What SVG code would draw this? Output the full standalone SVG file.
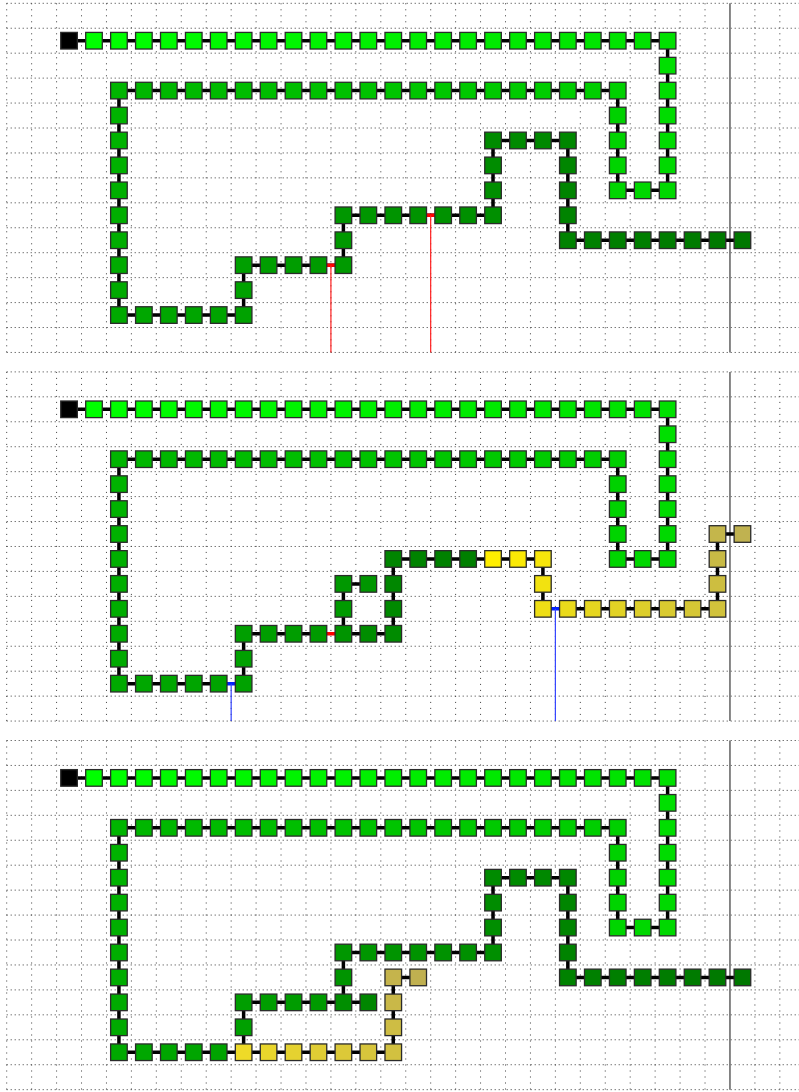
<svg xmlns="http://www.w3.org/2000/svg" xmlns:xlink="http://www.w3.org/1999/xlink" width="799" height="1092" viewBox="0 0 799 1092">
<style>
.gh{fill:none;stroke:#3a3a3a;stroke-width:1;stroke-dasharray:1 3}
.gv{fill:none;stroke:#3a3a3a;stroke-width:1;stroke-dasharray:1 5}
.axis{stroke:#6a6a6a;stroke-width:1.6}
.lk{fill:none;stroke:#000;stroke-width:3.5;stroke-linejoin:miter}
.lr{fill:none;stroke:#ff0000;stroke-width:3.5}
.lb{fill:none;stroke:#0022ff;stroke-width:3.5}
.tr{fill:none;stroke:#ff2020;stroke-width:1.2}
.tb{fill:none;stroke:#3344ff;stroke-width:1.2}
</style>
<defs>
<rect id="n" x="-8.3" y="-8.3" width="16.6" height="16.6" stroke="#2b2b2b" stroke-width="1.3"/>
<g id="grid">
<path class="gh" d="M6.7 3.3H799M6.7 28.24H799M6.7 53.18H799M6.7 78.12H799M6.7 103.06H799M6.7 128H799M6.7 152.94H799M6.7 177.88H799M6.7 202.82H799M6.7 227.76H799M6.7 252.7H799M6.7 277.64H799M6.7 302.58H799M6.7 327.52H799M6.7 352.46H799"/>
<path class="gv" d="M6.7 3.3V352.46M31.64 3.3V352.46M56.58 3.3V352.46M81.52 3.3V352.46M106.46 3.3V352.46M131.4 3.3V352.46M156.34 3.3V352.46M181.28 3.3V352.46M206.22 3.3V352.46M231.16 3.3V352.46M256.1 3.3V352.46M281.04 3.3V352.46M305.98 3.3V352.46M330.92 3.3V352.46M355.86 3.3V352.46M380.8 3.3V352.46M405.74 3.3V352.46M430.68 3.3V352.46M455.62 3.3V352.46M480.56 3.3V352.46M505.5 3.3V352.46M530.44 3.3V352.46M555.38 3.3V352.46M580.32 3.3V352.46M605.26 3.3V352.46M630.2 3.3V352.46M655.14 3.3V352.46M680.08 3.3V352.46M705.02 3.3V352.46M754.9 3.3V352.46M779.84 3.3V352.46"/>
<path class="axis" d="M729.96 3.3V352.46"/>
</g>
</defs>
<rect width="799" height="1092" fill="#fff"/>
<g id="grids">
<use xlink:href="#grid"/>
<use xlink:href="#grid" transform="translate(0,368.6)"/>
<use xlink:href="#grid" transform="translate(0,737.2)"/>
</g>
<g id="connectors">
<g id="p1-links">
<path class="lk" d="M69.05 40.71H667.61V190.35H617.73V90.59H118.93V315.05H243.63V265.17H343.39V215.29H493.03V140.47H567.85V240.23H742.43"/>
<path class="lr" d="M318.45 265.17H343.39M418.21 215.29H443.15"/>
<path class="tr" d="M330.92 265.17V352.46M430.68 215.29V352.46"/>
</g>
<g id="p2-links" transform="translate(0,368.6)">
<path class="lk" d="M69.05 40.71H667.61V190.35H617.73V90.59H118.93V315.05H218.69"/>
<path class="lk" d="M243.63 315.05V265.17H318.45"/>
<path class="lk" d="M343.39 265.17H393.27V190.35H542.91V240.23"/>
<path class="lk" d="M567.85 240.23H717.49V165.41H742.43"/>
<path class="lk" d="M343.39 265.17V215.29H368.33"/>
<path class="lb" d="M218.69 315.05H243.63M542.91 240.23H567.85"/>
<path class="lr" d="M318.45 265.17H343.39"/>
<path class="tb" d="M231.16 315.05V352.46M555.38 240.23V352.46"/>
</g>
<g id="p3-links" transform="translate(0,737.2)">
<path class="lk" d="M69.05 40.71H667.61V190.35H617.73V90.59H118.93V315.05H393.27V240.23H418.21"/>
<path class="lk" d="M243.63 315.05V265.17H368.33"/>
<path class="lk" d="M343.39 265.17V215.29H493.03V140.47H567.85V240.23H742.43"/>
</g>
</g>
<g id="panel1">
<g id="p1-n0"><use xlink:href="#n" x="69.05" y="40.71" fill="#000"/></g>
<g id="p1-n1"><use xlink:href="#n" x="93.99" y="40.71" fill="rgb(0,255,0)"/></g>
<g id="p1-n2"><use xlink:href="#n" x="118.93" y="40.71" fill="rgb(0,254,0)"/></g>
<g id="p1-n3"><use xlink:href="#n" x="143.87" y="40.71" fill="rgb(0,252,0)"/></g>
<g id="p1-n4"><use xlink:href="#n" x="168.81" y="40.71" fill="rgb(0,251,0)"/></g>
<g id="p1-n5"><use xlink:href="#n" x="193.75" y="40.71" fill="rgb(0,250,0)"/></g>
<g id="p1-n6"><use xlink:href="#n" x="218.69" y="40.71" fill="rgb(0,248,0)"/></g>
<g id="p1-n7"><use xlink:href="#n" x="243.63" y="40.71" fill="rgb(0,247,0)"/></g>
<g id="p1-n8"><use xlink:href="#n" x="268.57" y="40.71" fill="rgb(0,246,0)"/></g>
<g id="p1-n9"><use xlink:href="#n" x="293.51" y="40.71" fill="rgb(0,244,0)"/></g>
<g id="p1-n10"><use xlink:href="#n" x="318.45" y="40.71" fill="rgb(0,243,0)"/></g>
<g id="p1-n11"><use xlink:href="#n" x="343.39" y="40.71" fill="rgb(0,242,0)"/></g>
<g id="p1-n12"><use xlink:href="#n" x="368.33" y="40.71" fill="rgb(0,240,0)"/></g>
<g id="p1-n13"><use xlink:href="#n" x="393.27" y="40.71" fill="rgb(0,239,0)"/></g>
<g id="p1-n14"><use xlink:href="#n" x="418.21" y="40.71" fill="rgb(0,237,0)"/></g>
<g id="p1-n15"><use xlink:href="#n" x="443.15" y="40.71" fill="rgb(0,236,0)"/></g>
<g id="p1-n16"><use xlink:href="#n" x="468.09" y="40.71" fill="rgb(0,235,0)"/></g>
<g id="p1-n17"><use xlink:href="#n" x="493.03" y="40.71" fill="rgb(0,233,0)"/></g>
<g id="p1-n18"><use xlink:href="#n" x="517.97" y="40.71" fill="rgb(0,232,0)"/></g>
<g id="p1-n19"><use xlink:href="#n" x="542.91" y="40.71" fill="rgb(0,231,0)"/></g>
<g id="p1-n20"><use xlink:href="#n" x="567.85" y="40.71" fill="rgb(0,229,0)"/></g>
<g id="p1-n21"><use xlink:href="#n" x="592.79" y="40.71" fill="rgb(0,228,0)"/></g>
<g id="p1-n22"><use xlink:href="#n" x="617.73" y="40.71" fill="rgb(0,227,0)"/></g>
<g id="p1-n23"><use xlink:href="#n" x="642.67" y="40.71" fill="rgb(0,225,0)"/></g>
<g id="p1-n24"><use xlink:href="#n" x="667.61" y="40.71" fill="rgb(0,224,0)"/></g>
<g id="p1-n25"><use xlink:href="#n" x="667.61" y="65.65" fill="rgb(0,223,0)"/></g>
<g id="p1-n26"><use xlink:href="#n" x="667.61" y="90.59" fill="rgb(0,221,0)"/></g>
<g id="p1-n27"><use xlink:href="#n" x="667.61" y="115.53" fill="rgb(0,220,0)"/></g>
<g id="p1-n28"><use xlink:href="#n" x="667.61" y="140.47" fill="rgb(0,219,0)"/></g>
<g id="p1-n29"><use xlink:href="#n" x="667.61" y="165.41" fill="rgb(0,217,0)"/></g>
<g id="p1-n30"><use xlink:href="#n" x="667.61" y="190.35" fill="rgb(0,216,0)"/></g>
<g id="p1-n31"><use xlink:href="#n" x="642.67" y="190.35" fill="rgb(0,215,0)"/></g>
<g id="p1-n32"><use xlink:href="#n" x="617.73" y="190.35" fill="rgb(0,213,0)"/></g>
<g id="p1-n33"><use xlink:href="#n" x="617.73" y="165.41" fill="rgb(0,212,0)"/></g>
<g id="p1-n34"><use xlink:href="#n" x="617.73" y="140.47" fill="rgb(0,210,0)"/></g>
<g id="p1-n35"><use xlink:href="#n" x="617.73" y="115.53" fill="rgb(0,209,0)"/></g>
<g id="p1-n36"><use xlink:href="#n" x="617.73" y="90.59" fill="rgb(0,208,0)"/></g>
<g id="p1-n37"><use xlink:href="#n" x="592.79" y="90.59" fill="rgb(0,206,0)"/></g>
<g id="p1-n38"><use xlink:href="#n" x="567.85" y="90.59" fill="rgb(0,205,0)"/></g>
<g id="p1-n39"><use xlink:href="#n" x="542.91" y="90.59" fill="rgb(0,204,0)"/></g>
<g id="p1-n40"><use xlink:href="#n" x="517.97" y="90.59" fill="rgb(0,202,0)"/></g>
<g id="p1-n41"><use xlink:href="#n" x="493.03" y="90.59" fill="rgb(0,201,0)"/></g>
<g id="p1-n42"><use xlink:href="#n" x="468.09" y="90.59" fill="rgb(0,200,0)"/></g>
<g id="p1-n43"><use xlink:href="#n" x="443.15" y="90.59" fill="rgb(0,198,0)"/></g>
<g id="p1-n44"><use xlink:href="#n" x="418.21" y="90.59" fill="rgb(0,197,0)"/></g>
<g id="p1-n45"><use xlink:href="#n" x="393.27" y="90.59" fill="rgb(0,196,0)"/></g>
<g id="p1-n46"><use xlink:href="#n" x="368.33" y="90.59" fill="rgb(0,194,0)"/></g>
<g id="p1-n47"><use xlink:href="#n" x="343.39" y="90.59" fill="rgb(0,193,0)"/></g>
<g id="p1-n48"><use xlink:href="#n" x="318.45" y="90.59" fill="rgb(0,192,0)"/></g>
<g id="p1-n49"><use xlink:href="#n" x="293.51" y="90.59" fill="rgb(0,190,0)"/></g>
<g id="p1-n50"><use xlink:href="#n" x="268.57" y="90.59" fill="rgb(0,189,0)"/></g>
<g id="p1-n51"><use xlink:href="#n" x="243.63" y="90.59" fill="rgb(0,188,0)"/></g>
<g id="p1-n52"><use xlink:href="#n" x="218.69" y="90.59" fill="rgb(0,186,0)"/></g>
<g id="p1-n53"><use xlink:href="#n" x="193.75" y="90.59" fill="rgb(0,185,0)"/></g>
<g id="p1-n54"><use xlink:href="#n" x="168.81" y="90.59" fill="rgb(0,183,0)"/></g>
<g id="p1-n55"><use xlink:href="#n" x="143.87" y="90.59" fill="rgb(0,182,0)"/></g>
<g id="p1-n56"><use xlink:href="#n" x="118.93" y="90.59" fill="rgb(0,181,0)"/></g>
<g id="p1-n57"><use xlink:href="#n" x="118.93" y="115.53" fill="rgb(0,179,0)"/></g>
<g id="p1-n58"><use xlink:href="#n" x="118.93" y="140.47" fill="rgb(0,178,0)"/></g>
<g id="p1-n59"><use xlink:href="#n" x="118.93" y="165.41" fill="rgb(0,177,0)"/></g>
<g id="p1-n60"><use xlink:href="#n" x="118.93" y="190.35" fill="rgb(0,175,0)"/></g>
<g id="p1-n61"><use xlink:href="#n" x="118.93" y="215.29" fill="rgb(0,174,0)"/></g>
<g id="p1-n62"><use xlink:href="#n" x="118.93" y="240.23" fill="rgb(0,173,0)"/></g>
<g id="p1-n63"><use xlink:href="#n" x="118.93" y="265.17" fill="rgb(0,171,0)"/></g>
<g id="p1-n64"><use xlink:href="#n" x="118.93" y="290.11" fill="rgb(0,170,0)"/></g>
<g id="p1-n65"><use xlink:href="#n" x="118.93" y="315.05" fill="rgb(0,169,0)"/></g>
<g id="p1-n66"><use xlink:href="#n" x="143.87" y="315.05" fill="rgb(0,167,0)"/></g>
<g id="p1-n67"><use xlink:href="#n" x="168.81" y="315.05" fill="rgb(0,166,0)"/></g>
<g id="p1-n68"><use xlink:href="#n" x="193.75" y="315.05" fill="rgb(0,165,0)"/></g>
<g id="p1-n69"><use xlink:href="#n" x="218.69" y="315.05" fill="rgb(0,163,0)"/></g>
<g id="p1-n70"><use xlink:href="#n" x="243.63" y="315.05" fill="rgb(0,162,0)"/></g>
<g id="p1-n71"><use xlink:href="#n" x="243.63" y="290.11" fill="rgb(0,161,0)"/></g>
<g id="p1-n72"><use xlink:href="#n" x="243.63" y="265.17" fill="rgb(0,159,0)"/></g>
<g id="p1-n73"><use xlink:href="#n" x="268.57" y="265.17" fill="rgb(0,158,0)"/></g>
<g id="p1-n74"><use xlink:href="#n" x="293.51" y="265.17" fill="rgb(0,157,0)"/></g>
<g id="p1-n75"><use xlink:href="#n" x="318.45" y="265.17" fill="rgb(0,155,0)"/></g>
<g id="p1-n76"><use xlink:href="#n" x="343.39" y="265.17" fill="rgb(0,154,0)"/></g>
<g id="p1-n77"><use xlink:href="#n" x="343.39" y="240.23" fill="rgb(0,152,0)"/></g>
<g id="p1-n78"><use xlink:href="#n" x="343.39" y="215.29" fill="rgb(0,151,0)"/></g>
<g id="p1-n79"><use xlink:href="#n" x="368.33" y="215.29" fill="rgb(0,150,0)"/></g>
<g id="p1-n80"><use xlink:href="#n" x="393.27" y="215.29" fill="rgb(0,148,0)"/></g>
<g id="p1-n81"><use xlink:href="#n" x="418.21" y="215.29" fill="rgb(0,147,0)"/></g>
<g id="p1-n82"><use xlink:href="#n" x="443.15" y="215.29" fill="rgb(0,146,0)"/></g>
<g id="p1-n83"><use xlink:href="#n" x="468.09" y="215.29" fill="rgb(0,144,0)"/></g>
<g id="p1-n84"><use xlink:href="#n" x="493.03" y="215.29" fill="rgb(0,143,0)"/></g>
<g id="p1-n85"><use xlink:href="#n" x="493.03" y="190.35" fill="rgb(0,142,0)"/></g>
<g id="p1-n86"><use xlink:href="#n" x="493.03" y="165.41" fill="rgb(0,140,0)"/></g>
<g id="p1-n87"><use xlink:href="#n" x="493.03" y="140.47" fill="rgb(0,139,0)"/></g>
<g id="p1-n88"><use xlink:href="#n" x="517.97" y="140.47" fill="rgb(0,138,0)"/></g>
<g id="p1-n89"><use xlink:href="#n" x="542.91" y="140.47" fill="rgb(0,136,0)"/></g>
<g id="p1-n90"><use xlink:href="#n" x="567.85" y="140.47" fill="rgb(0,135,0)"/></g>
<g id="p1-n91"><use xlink:href="#n" x="567.85" y="165.41" fill="rgb(0,134,0)"/></g>
<g id="p1-n92"><use xlink:href="#n" x="567.85" y="190.35" fill="rgb(0,132,0)"/></g>
<g id="p1-n93"><use xlink:href="#n" x="567.85" y="215.29" fill="rgb(0,131,0)"/></g>
<g id="p1-n94"><use xlink:href="#n" x="567.85" y="240.23" fill="rgb(0,130,0)"/></g>
<g id="p1-n95"><use xlink:href="#n" x="592.79" y="240.23" fill="rgb(0,128,0)"/></g>
<g id="p1-n96"><use xlink:href="#n" x="617.73" y="240.23" fill="rgb(0,127,0)"/></g>
<g id="p1-n97"><use xlink:href="#n" x="642.67" y="240.23" fill="rgb(0,126,0)"/></g>
<g id="p1-n98"><use xlink:href="#n" x="667.61" y="240.23" fill="rgb(0,124,0)"/></g>
<g id="p1-n99"><use xlink:href="#n" x="692.55" y="240.23" fill="rgb(0,123,0)"/></g>
<g id="p1-n100"><use xlink:href="#n" x="717.49" y="240.23" fill="rgb(0,121,0)"/></g>
<g id="p1-n101"><use xlink:href="#n" x="742.43" y="240.23" fill="rgb(0,120,0)"/></g>
</g>
<g id="panel2" transform="translate(0,368.6)">
<g id="p2-n0"><use xlink:href="#n" x="69.05" y="40.71" fill="#000"/></g>
<g id="p2-n1"><use xlink:href="#n" x="93.99" y="40.71" fill="rgb(0,255,0)"/></g>
<g id="p2-n2"><use xlink:href="#n" x="118.93" y="40.71" fill="rgb(0,254,0)"/></g>
<g id="p2-n3"><use xlink:href="#n" x="143.87" y="40.71" fill="rgb(0,252,0)"/></g>
<g id="p2-n4"><use xlink:href="#n" x="168.81" y="40.71" fill="rgb(0,251,0)"/></g>
<g id="p2-n5"><use xlink:href="#n" x="193.75" y="40.71" fill="rgb(0,250,0)"/></g>
<g id="p2-n6"><use xlink:href="#n" x="218.69" y="40.71" fill="rgb(0,248,0)"/></g>
<g id="p2-n7"><use xlink:href="#n" x="243.63" y="40.71" fill="rgb(0,247,0)"/></g>
<g id="p2-n8"><use xlink:href="#n" x="268.57" y="40.71" fill="rgb(0,246,0)"/></g>
<g id="p2-n9"><use xlink:href="#n" x="293.51" y="40.71" fill="rgb(0,244,0)"/></g>
<g id="p2-n10"><use xlink:href="#n" x="318.45" y="40.71" fill="rgb(0,243,0)"/></g>
<g id="p2-n11"><use xlink:href="#n" x="343.39" y="40.71" fill="rgb(0,242,0)"/></g>
<g id="p2-n12"><use xlink:href="#n" x="368.33" y="40.71" fill="rgb(0,240,0)"/></g>
<g id="p2-n13"><use xlink:href="#n" x="393.27" y="40.71" fill="rgb(0,239,0)"/></g>
<g id="p2-n14"><use xlink:href="#n" x="418.21" y="40.71" fill="rgb(0,237,0)"/></g>
<g id="p2-n15"><use xlink:href="#n" x="443.15" y="40.71" fill="rgb(0,236,0)"/></g>
<g id="p2-n16"><use xlink:href="#n" x="468.09" y="40.71" fill="rgb(0,235,0)"/></g>
<g id="p2-n17"><use xlink:href="#n" x="493.03" y="40.71" fill="rgb(0,233,0)"/></g>
<g id="p2-n18"><use xlink:href="#n" x="517.97" y="40.71" fill="rgb(0,232,0)"/></g>
<g id="p2-n19"><use xlink:href="#n" x="542.91" y="40.71" fill="rgb(0,231,0)"/></g>
<g id="p2-n20"><use xlink:href="#n" x="567.85" y="40.71" fill="rgb(0,229,0)"/></g>
<g id="p2-n21"><use xlink:href="#n" x="592.79" y="40.71" fill="rgb(0,228,0)"/></g>
<g id="p2-n22"><use xlink:href="#n" x="617.73" y="40.71" fill="rgb(0,227,0)"/></g>
<g id="p2-n23"><use xlink:href="#n" x="642.67" y="40.71" fill="rgb(0,225,0)"/></g>
<g id="p2-n24"><use xlink:href="#n" x="667.61" y="40.71" fill="rgb(0,224,0)"/></g>
<g id="p2-n25"><use xlink:href="#n" x="667.61" y="65.65" fill="rgb(0,223,0)"/></g>
<g id="p2-n26"><use xlink:href="#n" x="667.61" y="90.59" fill="rgb(0,221,0)"/></g>
<g id="p2-n27"><use xlink:href="#n" x="667.61" y="115.53" fill="rgb(0,220,0)"/></g>
<g id="p2-n28"><use xlink:href="#n" x="667.61" y="140.47" fill="rgb(0,219,0)"/></g>
<g id="p2-n29"><use xlink:href="#n" x="667.61" y="165.41" fill="rgb(0,217,0)"/></g>
<g id="p2-n30"><use xlink:href="#n" x="667.61" y="190.35" fill="rgb(0,216,0)"/></g>
<g id="p2-n31"><use xlink:href="#n" x="642.67" y="190.35" fill="rgb(0,215,0)"/></g>
<g id="p2-n32"><use xlink:href="#n" x="617.73" y="190.35" fill="rgb(0,213,0)"/></g>
<g id="p2-n33"><use xlink:href="#n" x="617.73" y="165.41" fill="rgb(0,212,0)"/></g>
<g id="p2-n34"><use xlink:href="#n" x="617.73" y="140.47" fill="rgb(0,210,0)"/></g>
<g id="p2-n35"><use xlink:href="#n" x="617.73" y="115.53" fill="rgb(0,209,0)"/></g>
<g id="p2-n36"><use xlink:href="#n" x="617.73" y="90.59" fill="rgb(0,208,0)"/></g>
<g id="p2-n37"><use xlink:href="#n" x="592.79" y="90.59" fill="rgb(0,206,0)"/></g>
<g id="p2-n38"><use xlink:href="#n" x="567.85" y="90.59" fill="rgb(0,205,0)"/></g>
<g id="p2-n39"><use xlink:href="#n" x="542.91" y="90.59" fill="rgb(0,204,0)"/></g>
<g id="p2-n40"><use xlink:href="#n" x="517.97" y="90.59" fill="rgb(0,202,0)"/></g>
<g id="p2-n41"><use xlink:href="#n" x="493.03" y="90.59" fill="rgb(0,201,0)"/></g>
<g id="p2-n42"><use xlink:href="#n" x="468.09" y="90.59" fill="rgb(0,200,0)"/></g>
<g id="p2-n43"><use xlink:href="#n" x="443.15" y="90.59" fill="rgb(0,198,0)"/></g>
<g id="p2-n44"><use xlink:href="#n" x="418.21" y="90.59" fill="rgb(0,197,0)"/></g>
<g id="p2-n45"><use xlink:href="#n" x="393.27" y="90.59" fill="rgb(0,196,0)"/></g>
<g id="p2-n46"><use xlink:href="#n" x="368.33" y="90.59" fill="rgb(0,194,0)"/></g>
<g id="p2-n47"><use xlink:href="#n" x="343.39" y="90.59" fill="rgb(0,193,0)"/></g>
<g id="p2-n48"><use xlink:href="#n" x="318.45" y="90.59" fill="rgb(0,192,0)"/></g>
<g id="p2-n49"><use xlink:href="#n" x="293.51" y="90.59" fill="rgb(0,190,0)"/></g>
<g id="p2-n50"><use xlink:href="#n" x="268.57" y="90.59" fill="rgb(0,189,0)"/></g>
<g id="p2-n51"><use xlink:href="#n" x="243.63" y="90.59" fill="rgb(0,188,0)"/></g>
<g id="p2-n52"><use xlink:href="#n" x="218.69" y="90.59" fill="rgb(0,186,0)"/></g>
<g id="p2-n53"><use xlink:href="#n" x="193.75" y="90.59" fill="rgb(0,185,0)"/></g>
<g id="p2-n54"><use xlink:href="#n" x="168.81" y="90.59" fill="rgb(0,183,0)"/></g>
<g id="p2-n55"><use xlink:href="#n" x="143.87" y="90.59" fill="rgb(0,182,0)"/></g>
<g id="p2-n56"><use xlink:href="#n" x="118.93" y="90.59" fill="rgb(0,181,0)"/></g>
<g id="p2-n57"><use xlink:href="#n" x="118.93" y="115.53" fill="rgb(0,179,0)"/></g>
<g id="p2-n58"><use xlink:href="#n" x="118.93" y="140.47" fill="rgb(0,178,0)"/></g>
<g id="p2-n59"><use xlink:href="#n" x="118.93" y="165.41" fill="rgb(0,177,0)"/></g>
<g id="p2-n60"><use xlink:href="#n" x="118.93" y="190.35" fill="rgb(0,175,0)"/></g>
<g id="p2-n61"><use xlink:href="#n" x="118.93" y="215.29" fill="rgb(0,174,0)"/></g>
<g id="p2-n62"><use xlink:href="#n" x="118.93" y="240.23" fill="rgb(0,173,0)"/></g>
<g id="p2-n63"><use xlink:href="#n" x="118.93" y="265.17" fill="rgb(0,171,0)"/></g>
<g id="p2-n64"><use xlink:href="#n" x="118.93" y="290.11" fill="rgb(0,170,0)"/></g>
<g id="p2-n65"><use xlink:href="#n" x="118.93" y="315.05" fill="rgb(0,169,0)"/></g>
<g id="p2-n66"><use xlink:href="#n" x="143.87" y="315.05" fill="rgb(0,167,0)"/></g>
<g id="p2-n67"><use xlink:href="#n" x="168.81" y="315.05" fill="rgb(0,166,0)"/></g>
<g id="p2-n68"><use xlink:href="#n" x="193.75" y="315.05" fill="rgb(0,165,0)"/></g>
<g id="p2-n69"><use xlink:href="#n" x="218.69" y="315.05" fill="rgb(0,163,0)"/></g>
<g id="p2-n70"><use xlink:href="#n" x="243.63" y="315.05" fill="rgb(0,162,0)"/></g>
<g id="p2-n71"><use xlink:href="#n" x="243.63" y="290.11" fill="rgb(0,161,0)"/></g>
<g id="p2-n72"><use xlink:href="#n" x="243.63" y="265.17" fill="rgb(0,159,0)"/></g>
<g id="p2-n73"><use xlink:href="#n" x="268.57" y="265.17" fill="rgb(0,158,0)"/></g>
<g id="p2-n74"><use xlink:href="#n" x="293.51" y="265.17" fill="rgb(0,157,0)"/></g>
<g id="p2-n75"><use xlink:href="#n" x="318.45" y="265.17" fill="rgb(0,155,0)"/></g>
<g id="p2-n76"><use xlink:href="#n" x="343.39" y="265.17" fill="rgb(0,148,0)"/></g>
<g id="p2-n77"><use xlink:href="#n" x="368.33" y="265.17" fill="rgb(0,141,0)"/></g>
<g id="p2-n78"><use xlink:href="#n" x="393.27" y="265.17" fill="rgb(0,139,0)"/></g>
<g id="p2-n79"><use xlink:href="#n" x="393.27" y="240.23" fill="rgb(0,137,0)"/></g>
<g id="p2-n80"><use xlink:href="#n" x="393.27" y="215.29" fill="rgb(0,135,0)"/></g>
<g id="p2-n81"><use xlink:href="#n" x="393.27" y="190.35" fill="rgb(0,133,0)"/></g>
<g id="p2-n82"><use xlink:href="#n" x="418.21" y="190.35" fill="rgb(0,131,0)"/></g>
<g id="p2-n83"><use xlink:href="#n" x="443.15" y="190.35" fill="rgb(0,129,0)"/></g>
<g id="p2-n84"><use xlink:href="#n" x="468.09" y="190.35" fill="rgb(0,127,0)"/></g>
<g id="p2-n85"><use xlink:href="#n" x="343.39" y="240.23" fill="rgb(0,154,0)"/></g>
<g id="p2-n86"><use xlink:href="#n" x="343.39" y="215.29" fill="rgb(0,152,0)"/></g>
<g id="p2-n87"><use xlink:href="#n" x="368.33" y="215.29" fill="rgb(0,150,0)"/></g>
<g id="p2-y0"><use xlink:href="#n" x="493.03" y="190.35" fill="rgb(255,238,0)"/></g>
<g id="p2-y1"><use xlink:href="#n" x="517.97" y="190.35" fill="rgb(251,234,5)"/></g>
<g id="p2-y2"><use xlink:href="#n" x="542.91" y="190.35" fill="rgb(247,230,11)"/></g>
<g id="p2-y3"><use xlink:href="#n" x="542.91" y="215.29" fill="rgb(242,226,16)"/></g>
<g id="p2-y4"><use xlink:href="#n" x="542.91" y="240.23" fill="rgb(238,222,21)"/></g>
<g id="p2-y5"><use xlink:href="#n" x="567.85" y="240.23" fill="rgb(234,218,27)"/></g>
<g id="p2-y6"><use xlink:href="#n" x="592.79" y="240.23" fill="rgb(230,214,32)"/></g>
<g id="p2-y7"><use xlink:href="#n" x="617.73" y="240.23" fill="rgb(226,210,37)"/></g>
<g id="p2-y8"><use xlink:href="#n" x="642.67" y="240.23" fill="rgb(221,206,43)"/></g>
<g id="p2-y9"><use xlink:href="#n" x="667.61" y="240.23" fill="rgb(217,202,48)"/></g>
<g id="p2-y10"><use xlink:href="#n" x="692.55" y="240.23" fill="rgb(213,198,53)"/></g>
<g id="p2-y11"><use xlink:href="#n" x="717.49" y="240.23" fill="rgb(209,194,59)"/></g>
<g id="p2-y12"><use xlink:href="#n" x="717.49" y="215.29" fill="rgb(205,190,64)"/></g>
<g id="p2-y13"><use xlink:href="#n" x="717.49" y="190.35" fill="rgb(200,186,69)"/></g>
<g id="p2-y14"><use xlink:href="#n" x="717.49" y="165.41" fill="rgb(196,182,75)"/></g>
<g id="p2-y15"><use xlink:href="#n" x="742.43" y="165.41" fill="rgb(192,178,80)"/></g>
</g>
<g id="panel3" transform="translate(0,737.2)">
<g id="p3-n0"><use xlink:href="#n" x="69.05" y="40.71" fill="#000"/></g>
<g id="p3-n1"><use xlink:href="#n" x="93.99" y="40.71" fill="rgb(0,255,0)"/></g>
<g id="p3-n2"><use xlink:href="#n" x="118.93" y="40.71" fill="rgb(0,254,0)"/></g>
<g id="p3-n3"><use xlink:href="#n" x="143.87" y="40.71" fill="rgb(0,252,0)"/></g>
<g id="p3-n4"><use xlink:href="#n" x="168.81" y="40.71" fill="rgb(0,251,0)"/></g>
<g id="p3-n5"><use xlink:href="#n" x="193.75" y="40.71" fill="rgb(0,250,0)"/></g>
<g id="p3-n6"><use xlink:href="#n" x="218.69" y="40.71" fill="rgb(0,248,0)"/></g>
<g id="p3-n7"><use xlink:href="#n" x="243.63" y="40.71" fill="rgb(0,247,0)"/></g>
<g id="p3-n8"><use xlink:href="#n" x="268.57" y="40.71" fill="rgb(0,246,0)"/></g>
<g id="p3-n9"><use xlink:href="#n" x="293.51" y="40.71" fill="rgb(0,244,0)"/></g>
<g id="p3-n10"><use xlink:href="#n" x="318.45" y="40.71" fill="rgb(0,243,0)"/></g>
<g id="p3-n11"><use xlink:href="#n" x="343.39" y="40.71" fill="rgb(0,242,0)"/></g>
<g id="p3-n12"><use xlink:href="#n" x="368.33" y="40.71" fill="rgb(0,240,0)"/></g>
<g id="p3-n13"><use xlink:href="#n" x="393.27" y="40.71" fill="rgb(0,239,0)"/></g>
<g id="p3-n14"><use xlink:href="#n" x="418.21" y="40.71" fill="rgb(0,237,0)"/></g>
<g id="p3-n15"><use xlink:href="#n" x="443.15" y="40.71" fill="rgb(0,236,0)"/></g>
<g id="p3-n16"><use xlink:href="#n" x="468.09" y="40.71" fill="rgb(0,235,0)"/></g>
<g id="p3-n17"><use xlink:href="#n" x="493.03" y="40.71" fill="rgb(0,233,0)"/></g>
<g id="p3-n18"><use xlink:href="#n" x="517.97" y="40.71" fill="rgb(0,232,0)"/></g>
<g id="p3-n19"><use xlink:href="#n" x="542.91" y="40.71" fill="rgb(0,231,0)"/></g>
<g id="p3-n20"><use xlink:href="#n" x="567.85" y="40.71" fill="rgb(0,229,0)"/></g>
<g id="p3-n21"><use xlink:href="#n" x="592.79" y="40.71" fill="rgb(0,228,0)"/></g>
<g id="p3-n22"><use xlink:href="#n" x="617.73" y="40.71" fill="rgb(0,227,0)"/></g>
<g id="p3-n23"><use xlink:href="#n" x="642.67" y="40.71" fill="rgb(0,225,0)"/></g>
<g id="p3-n24"><use xlink:href="#n" x="667.61" y="40.71" fill="rgb(0,224,0)"/></g>
<g id="p3-n25"><use xlink:href="#n" x="667.61" y="65.65" fill="rgb(0,223,0)"/></g>
<g id="p3-n26"><use xlink:href="#n" x="667.61" y="90.59" fill="rgb(0,221,0)"/></g>
<g id="p3-n27"><use xlink:href="#n" x="667.61" y="115.53" fill="rgb(0,220,0)"/></g>
<g id="p3-n28"><use xlink:href="#n" x="667.61" y="140.47" fill="rgb(0,219,0)"/></g>
<g id="p3-n29"><use xlink:href="#n" x="667.61" y="165.41" fill="rgb(0,217,0)"/></g>
<g id="p3-n30"><use xlink:href="#n" x="667.61" y="190.35" fill="rgb(0,216,0)"/></g>
<g id="p3-n31"><use xlink:href="#n" x="642.67" y="190.35" fill="rgb(0,215,0)"/></g>
<g id="p3-n32"><use xlink:href="#n" x="617.73" y="190.35" fill="rgb(0,213,0)"/></g>
<g id="p3-n33"><use xlink:href="#n" x="617.73" y="165.41" fill="rgb(0,212,0)"/></g>
<g id="p3-n34"><use xlink:href="#n" x="617.73" y="140.47" fill="rgb(0,210,0)"/></g>
<g id="p3-n35"><use xlink:href="#n" x="617.73" y="115.53" fill="rgb(0,209,0)"/></g>
<g id="p3-n36"><use xlink:href="#n" x="617.73" y="90.59" fill="rgb(0,208,0)"/></g>
<g id="p3-n37"><use xlink:href="#n" x="592.79" y="90.59" fill="rgb(0,206,0)"/></g>
<g id="p3-n38"><use xlink:href="#n" x="567.85" y="90.59" fill="rgb(0,205,0)"/></g>
<g id="p3-n39"><use xlink:href="#n" x="542.91" y="90.59" fill="rgb(0,204,0)"/></g>
<g id="p3-n40"><use xlink:href="#n" x="517.97" y="90.59" fill="rgb(0,202,0)"/></g>
<g id="p3-n41"><use xlink:href="#n" x="493.03" y="90.59" fill="rgb(0,201,0)"/></g>
<g id="p3-n42"><use xlink:href="#n" x="468.09" y="90.59" fill="rgb(0,200,0)"/></g>
<g id="p3-n43"><use xlink:href="#n" x="443.15" y="90.59" fill="rgb(0,198,0)"/></g>
<g id="p3-n44"><use xlink:href="#n" x="418.21" y="90.59" fill="rgb(0,197,0)"/></g>
<g id="p3-n45"><use xlink:href="#n" x="393.27" y="90.59" fill="rgb(0,196,0)"/></g>
<g id="p3-n46"><use xlink:href="#n" x="368.33" y="90.59" fill="rgb(0,194,0)"/></g>
<g id="p3-n47"><use xlink:href="#n" x="343.39" y="90.59" fill="rgb(0,193,0)"/></g>
<g id="p3-n48"><use xlink:href="#n" x="318.45" y="90.59" fill="rgb(0,192,0)"/></g>
<g id="p3-n49"><use xlink:href="#n" x="293.51" y="90.59" fill="rgb(0,190,0)"/></g>
<g id="p3-n50"><use xlink:href="#n" x="268.57" y="90.59" fill="rgb(0,189,0)"/></g>
<g id="p3-n51"><use xlink:href="#n" x="243.63" y="90.59" fill="rgb(0,188,0)"/></g>
<g id="p3-n52"><use xlink:href="#n" x="218.69" y="90.59" fill="rgb(0,186,0)"/></g>
<g id="p3-n53"><use xlink:href="#n" x="193.75" y="90.59" fill="rgb(0,185,0)"/></g>
<g id="p3-n54"><use xlink:href="#n" x="168.81" y="90.59" fill="rgb(0,183,0)"/></g>
<g id="p3-n55"><use xlink:href="#n" x="143.87" y="90.59" fill="rgb(0,182,0)"/></g>
<g id="p3-n56"><use xlink:href="#n" x="118.93" y="90.59" fill="rgb(0,181,0)"/></g>
<g id="p3-n57"><use xlink:href="#n" x="118.93" y="115.53" fill="rgb(0,179,0)"/></g>
<g id="p3-n58"><use xlink:href="#n" x="118.93" y="140.47" fill="rgb(0,178,0)"/></g>
<g id="p3-n59"><use xlink:href="#n" x="118.93" y="165.41" fill="rgb(0,177,0)"/></g>
<g id="p3-n60"><use xlink:href="#n" x="118.93" y="190.35" fill="rgb(0,175,0)"/></g>
<g id="p3-n61"><use xlink:href="#n" x="118.93" y="215.29" fill="rgb(0,174,0)"/></g>
<g id="p3-n62"><use xlink:href="#n" x="118.93" y="240.23" fill="rgb(0,173,0)"/></g>
<g id="p3-n63"><use xlink:href="#n" x="118.93" y="265.17" fill="rgb(0,171,0)"/></g>
<g id="p3-n64"><use xlink:href="#n" x="118.93" y="290.11" fill="rgb(0,170,0)"/></g>
<g id="p3-n65"><use xlink:href="#n" x="118.93" y="315.05" fill="rgb(0,169,0)"/></g>
<g id="p3-n66"><use xlink:href="#n" x="143.87" y="315.05" fill="rgb(0,167,0)"/></g>
<g id="p3-n67"><use xlink:href="#n" x="168.81" y="315.05" fill="rgb(0,166,0)"/></g>
<g id="p3-n68"><use xlink:href="#n" x="193.75" y="315.05" fill="rgb(0,165,0)"/></g>
<g id="p3-n69"><use xlink:href="#n" x="218.69" y="315.05" fill="rgb(0,163,0)"/></g>
<g id="p3-n70"><use xlink:href="#n" x="243.63" y="290.11" fill="rgb(0,160,0)"/></g>
<g id="p3-n71"><use xlink:href="#n" x="243.63" y="265.17" fill="rgb(0,158,0)"/></g>
<g id="p3-n72"><use xlink:href="#n" x="268.57" y="265.17" fill="rgb(0,157,0)"/></g>
<g id="p3-n73"><use xlink:href="#n" x="293.51" y="265.17" fill="rgb(0,156,0)"/></g>
<g id="p3-n74"><use xlink:href="#n" x="318.45" y="265.17" fill="rgb(0,154,0)"/></g>
<g id="p3-n75"><use xlink:href="#n" x="343.39" y="265.17" fill="rgb(0,142,0)"/></g>
<g id="p3-n76"><use xlink:href="#n" x="368.33" y="265.17" fill="rgb(0,134,0)"/></g>
<g id="p3-n77"><use xlink:href="#n" x="343.39" y="240.23" fill="rgb(0,148,0)"/></g>
<g id="p3-n78"><use xlink:href="#n" x="343.39" y="215.29" fill="rgb(0,151,0)"/></g>
<g id="p3-n79"><use xlink:href="#n" x="368.33" y="215.29" fill="rgb(0,150,0)"/></g>
<g id="p3-n80"><use xlink:href="#n" x="393.27" y="215.29" fill="rgb(0,148,0)"/></g>
<g id="p3-n81"><use xlink:href="#n" x="418.21" y="215.29" fill="rgb(0,147,0)"/></g>
<g id="p3-n82"><use xlink:href="#n" x="443.15" y="215.29" fill="rgb(0,146,0)"/></g>
<g id="p3-n83"><use xlink:href="#n" x="468.09" y="215.29" fill="rgb(0,144,0)"/></g>
<g id="p3-n84"><use xlink:href="#n" x="493.03" y="215.29" fill="rgb(0,143,0)"/></g>
<g id="p3-n85"><use xlink:href="#n" x="493.03" y="190.35" fill="rgb(0,142,0)"/></g>
<g id="p3-n86"><use xlink:href="#n" x="493.03" y="165.41" fill="rgb(0,140,0)"/></g>
<g id="p3-n87"><use xlink:href="#n" x="493.03" y="140.47" fill="rgb(0,139,0)"/></g>
<g id="p3-n88"><use xlink:href="#n" x="517.97" y="140.47" fill="rgb(0,138,0)"/></g>
<g id="p3-n89"><use xlink:href="#n" x="542.91" y="140.47" fill="rgb(0,136,0)"/></g>
<g id="p3-n90"><use xlink:href="#n" x="567.85" y="140.47" fill="rgb(0,135,0)"/></g>
<g id="p3-n91"><use xlink:href="#n" x="567.85" y="165.41" fill="rgb(0,134,0)"/></g>
<g id="p3-n92"><use xlink:href="#n" x="567.85" y="190.35" fill="rgb(0,132,0)"/></g>
<g id="p3-n93"><use xlink:href="#n" x="567.85" y="215.29" fill="rgb(0,131,0)"/></g>
<g id="p3-n94"><use xlink:href="#n" x="567.85" y="240.23" fill="rgb(0,130,0)"/></g>
<g id="p3-n95"><use xlink:href="#n" x="592.79" y="240.23" fill="rgb(0,128,0)"/></g>
<g id="p3-n96"><use xlink:href="#n" x="617.73" y="240.23" fill="rgb(0,127,0)"/></g>
<g id="p3-n97"><use xlink:href="#n" x="642.67" y="240.23" fill="rgb(0,126,0)"/></g>
<g id="p3-n98"><use xlink:href="#n" x="667.61" y="240.23" fill="rgb(0,124,0)"/></g>
<g id="p3-n99"><use xlink:href="#n" x="692.55" y="240.23" fill="rgb(0,123,0)"/></g>
<g id="p3-n100"><use xlink:href="#n" x="717.49" y="240.23" fill="rgb(0,121,0)"/></g>
<g id="p3-n101"><use xlink:href="#n" x="742.43" y="240.23" fill="rgb(0,120,0)"/></g>
<g id="p3-y0"><use xlink:href="#n" x="243.63" y="315.05" fill="rgb(238,218,40)"/></g>
<g id="p3-y1"><use xlink:href="#n" x="268.57" y="315.05" fill="rgb(233,214,44)"/></g>
<g id="p3-y2"><use xlink:href="#n" x="293.51" y="315.05" fill="rgb(229,210,48)"/></g>
<g id="p3-y3"><use xlink:href="#n" x="318.45" y="315.05" fill="rgb(224,205,52)"/></g>
<g id="p3-y4"><use xlink:href="#n" x="343.39" y="315.05" fill="rgb(220,201,56)"/></g>
<g id="p3-y5"><use xlink:href="#n" x="368.33" y="315.05" fill="rgb(215,197,60)"/></g>
<g id="p3-y6"><use xlink:href="#n" x="393.27" y="315.05" fill="rgb(210,193,64)"/></g>
<g id="p3-y7"><use xlink:href="#n" x="393.27" y="290.11" fill="rgb(206,189,68)"/></g>
<g id="p3-y8"><use xlink:href="#n" x="393.27" y="265.17" fill="rgb(201,184,72)"/></g>
<g id="p3-y9"><use xlink:href="#n" x="393.27" y="240.23" fill="rgb(197,180,76)"/></g>
<g id="p3-y10"><use xlink:href="#n" x="418.21" y="240.23" fill="rgb(192,176,80)"/></g>
</g>
</svg>
